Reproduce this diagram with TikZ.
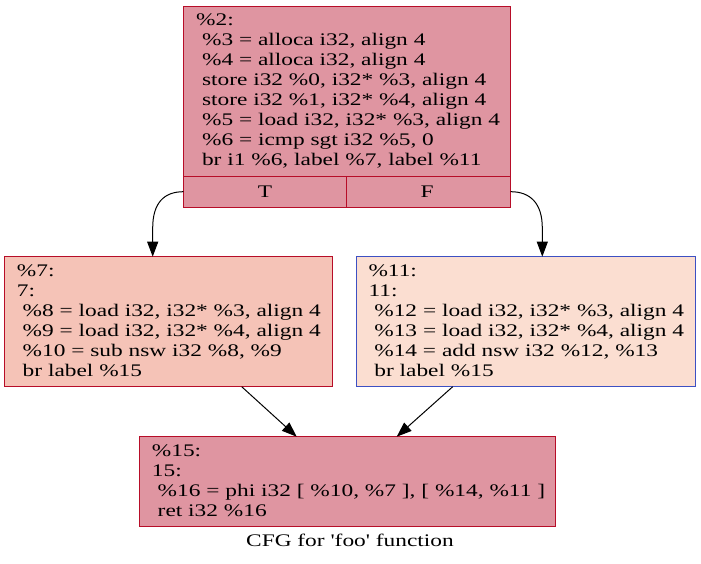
\documentclass[tikz,border=0pt]{standalone}
\usepackage{fontspec}
\usetikzlibrary{arrows.meta,calc}
% Serif face for the IR listings, slightly widened
\newfontfamily\irfont[FakeStretch=1.32]{Liberation Serif}
% a space that survives at the start of a broken line
\newcommand\leadsp{\hbox{}\ }
\definecolor{hotred}{HTML}{B70D28}
\definecolor{coolblue}{HTML}{3D50C3}
\definecolor{fillhot}{RGB}{223,149,161}
\definecolor{fillwarm}{RGB}{245,195,183}
\definecolor{fillmild}{RGB}{251,222,209}
\begin{document}
\begin{tikzpicture}[x=1pt,y=-1pt,
  blk/.style={draw=hotred,line width=1pt,inner sep=0pt,outer sep=0pt,rectangle},
  % listings are placed by the baseline of their last line
  code/.style={anchor=base west,align=left,inner sep=0pt,
    font=\irfont\fontsize{17.7}{20}\selectfont},
  lbl/.style={anchor=base,inner sep=0pt,font=\irfont\fontsize{17.7}{20}\selectfont},
  edge/.style={line width=1pt,-{Triangle[length=15pt,width=11pt]}}]
\useasboundingbox (0,0) rectangle (701,564);

% entry block with its two branch ports
\node[blk,fill=fillhot,minimum width=327.2pt,minimum height=201pt] (b2) at (347.1,106.8) {};
\draw[hotred,line width=1pt] ([yshift=30.6pt]b2.south west) -- ([yshift=30.6pt]b2.south east);
\draw[hotred,line width=1pt] ([xshift=-0.4pt,yshift=30.6pt]b2.south) -- ([xshift=-0.4pt]b2.south);
\node[code] (t2) at (196,166) {\%2:\\
\leadsp\%3 = alloca i32, align 4\\
\leadsp\%4 = alloca i32, align 4\\
\leadsp store i32 \%0, i32* \%3, align 4\\
\leadsp store i32 \%1, i32* \%4, align 4\\
\leadsp\%5 = load i32, i32* \%3, align 4\\
\leadsp\%6 = icmp sgt i32 \%5, 0\\
\leadsp br i1 \%6, label \%7, label \%11};
\node[lbl] (pt) at (265,197) {T};
\node[lbl] (pf) at (427,197) {F};

% then-block
\node[blk,fill=fillwarm,minimum width=327.3pt,minimum height=130pt] (b7) at (168.35,321.7) {};
\node[code] (t7) at (16.7,376.7) {\%7:\\
7:\\
\leadsp\%8 = load i32, i32* \%3, align 4\\
\leadsp\%9 = load i32, i32* \%4, align 4\\
\leadsp\%10 = sub nsw i32 \%8, \%9\\
\leadsp br label \%15};

% else-block
\node[blk,draw=coolblue,fill=fillmild,minimum width=338.3pt,minimum height=130pt] (b11) at (525.85,321.7) {};
\node[code] (t11) at (368.3,376.7) {\%11:\\
11:\\
\leadsp\%12 = load i32, i32* \%3, align 4\\
\leadsp\%13 = load i32, i32* \%4, align 4\\
\leadsp\%14 = add nsw i32 \%12, \%13\\
\leadsp br label \%15};

% join block
\node[blk,fill=fillhot,minimum width=415.7pt,minimum height=90pt] (b15) at (347.15,481.7) {};
\node[code] (t15) at (151.7,516.7) {\%15:\\
15:\\
\leadsp\%16 = phi i32 [ \%10, \%7 ], [ \%14, \%11 ]\\
\leadsp ret i32 \%16};

\node[lbl] (cap) at (350,546.7) {CFG for 'foo' function};

% control-flow edges
\draw[edge] ([yshift=15.6pt]b2.south west) .. controls (164,191.7) and (152.7,203) .. (152.7,228)
  -- ([xshift=-15.65pt]b7.north);
\draw[edge] ([yshift=15.6pt]b2.south east) .. controls (530,191.7) and (542.3,203) .. (542.3,228)
  -- ([xshift=16.45pt]b11.north);
\draw[edge] ([xshift=73.35pt]b7.south) -- ([xshift=-50.45pt]b15.north);
\draw[edge] ([xshift=-73.15pt]b11.south) -- ([xshift=49.55pt]b15.north);
\end{tikzpicture}
\end{document}
